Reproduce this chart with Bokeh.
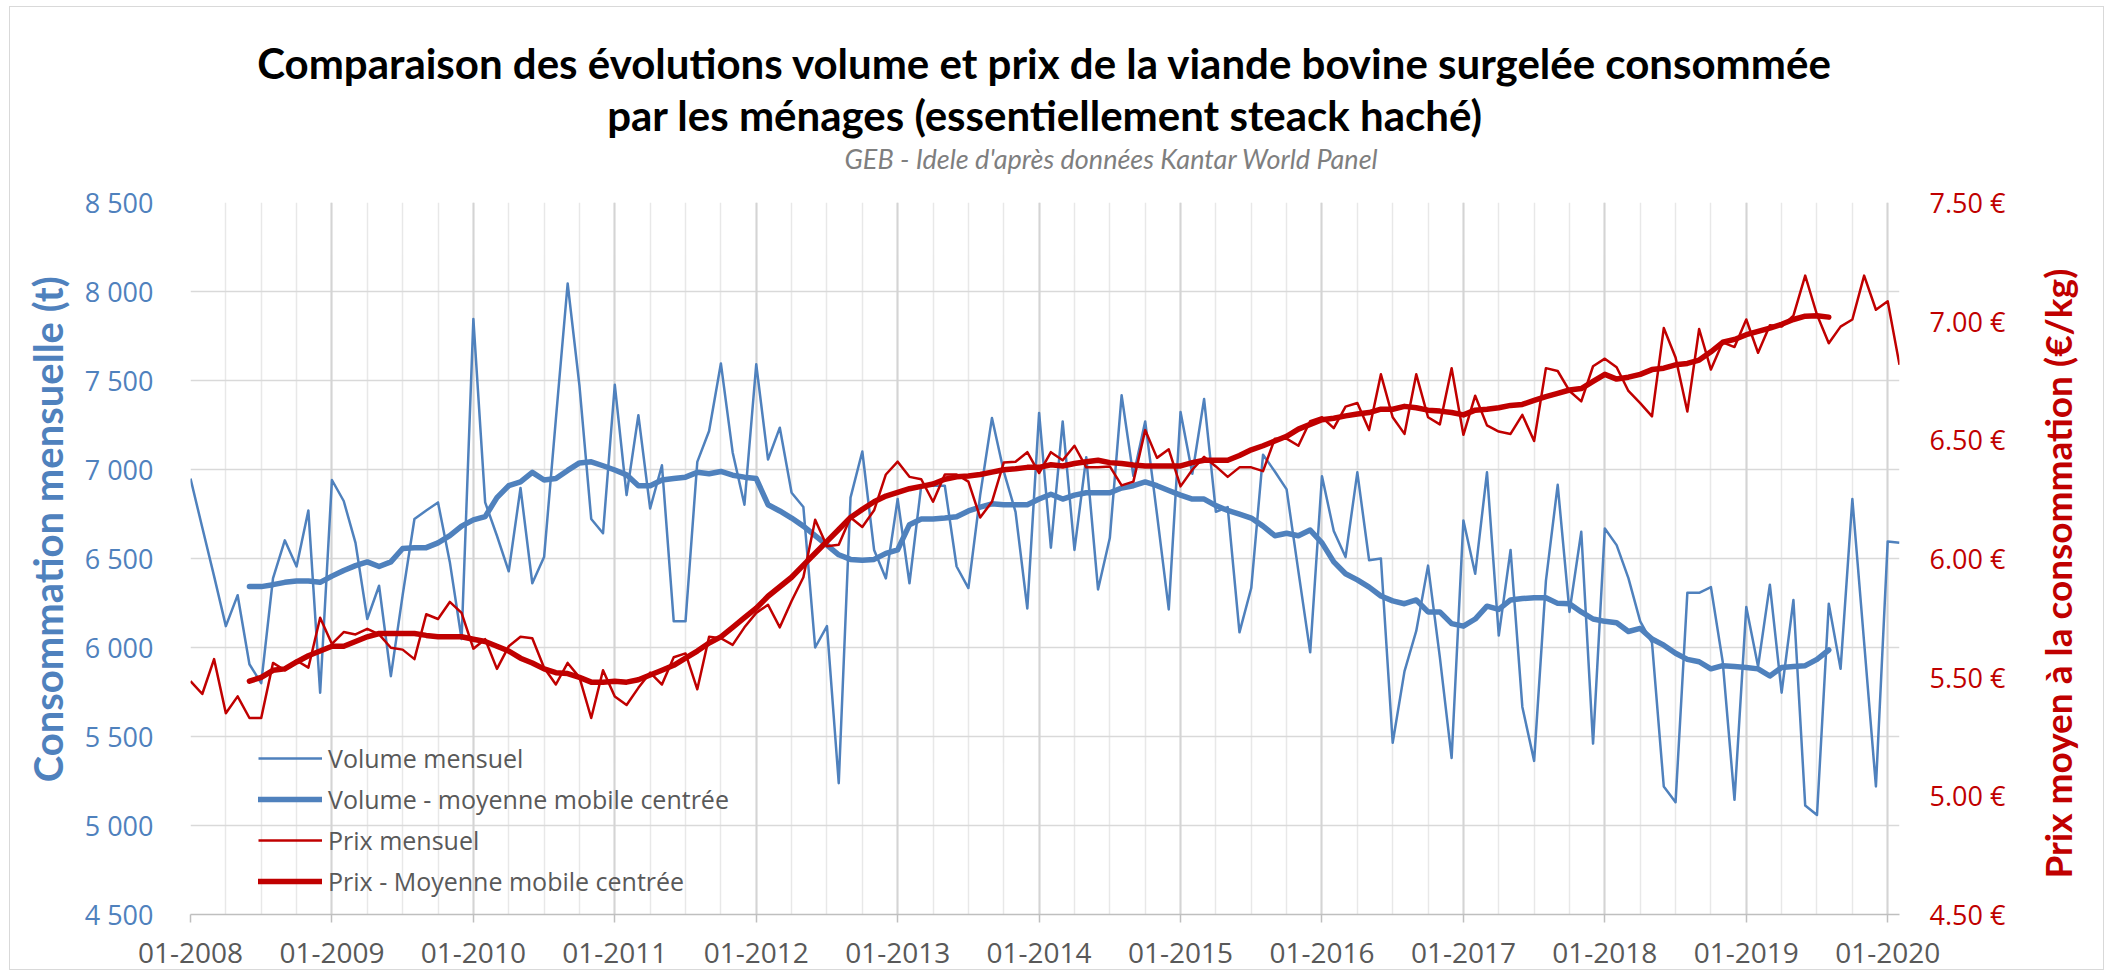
import math
import pandas as pd
from bokeh.plotting import figure
from bokeh.models import (Range1d, LinearAxis, FixedTicker, Grid, Legend, LegendItem, Title)
from bokeh.embed import file_html
from bokeh.resources import INLINE

# ---------------- data ----------------
months = [p.strftime("%m-%Y") for p in pd.period_range("2008-01", "2020-02", freq="M")]

volume_mensuel = [
    6949, 6674, 6401, 6120, 6294, 5906, 5800, 6388, 6602, 6455, 6770, 5746,   # 2008
    6941, 6823, 6588, 6160, 6347, 5839, 6294, 6722, 6770, 6815, 6481, 6048,   # 2009
    7845, 6815, 6628, 6428, 6896, 6361, 6508, 7283, 8045, 7471, 6722, 6642,   # 2010
    7476, 6856, 7305, 6781, 7024, 6147, 6147, 7043, 7216, 7596, 7096, 6802,   # 2011
    7591, 7056, 7235, 6869, 6789, 6000, 6120, 5238, 6842, 7101, 6548, 6388,   # 2012
    6834, 6361, 6909, 6909, 6909, 6455, 6334, 6856, 7289, 6989, 6762, 6219,   # 2013
    7318, 6561, 7270, 6548, 7069, 6326, 6615, 7417, 6963, 7270, 6749, 6214,   # 2014
    7323, 6976, 7396, 6762, 6789, 6085, 6334, 7083, 6989, 6888, 6428, 5973,   # 2015
    6962, 6655, 6508, 6984, 6490, 6500, 5465, 5866, 6093, 6460, 5946, 5379,   # 2016
    6714, 6414, 6984, 6067, 6548, 5666, 5363, 6374, 6914, 6200, 6650, 5460,   # 2017
    6669, 6575, 6390, 6147, 6027, 5219, 5131, 6307, 6307, 6339, 5920, 5144,   # 2018
    6227, 5893, 6353, 5746, 6267, 5112, 5059, 6246, 5880, 6834, 6027, 5219,   # 2019
    6596, 6588,                                                               # 2020
]

# centred moving averages, available from 06-2008 to 08-2019
ma_first_month = "06-2008"
volume_mm = [
    6342, 6342, 6353, 6366, 6374, 6374, 6366,
    6401, 6433, 6460, 6481, 6455, 6481, 6556, 6561, 6561, 6588, 6628, 6682,
    6717, 6735, 6842, 6909, 6930, 6984, 6941, 6949, 6995, 7037, 7043, 7021,
    6997, 6970, 6909, 6909, 6941, 6949, 6957, 6984, 6976, 6989, 6968, 6957,
    6949, 6802, 6767, 6727, 6682, 6628, 6575, 6521, 6495, 6490, 6495, 6529,
    6548, 6690, 6722, 6722, 6727, 6735, 6767, 6789, 6807, 6802, 6802, 6802,
    6834, 6861, 6834, 6856, 6869, 6869, 6869, 6896, 6909, 6930, 6909, 6882,
    6856, 6834, 6834, 6797, 6770, 6749, 6727, 6682, 6628, 6642, 6628, 6660,
    6588, 6481, 6414, 6380, 6339, 6289, 6262, 6246, 6267, 6200, 6200, 6134,
    6120, 6160, 6232, 6214, 6267, 6275, 6280, 6280, 6248, 6246, 6200, 6160,
    6147, 6139, 6090, 6107, 6048, 6013, 5968, 5933, 5920, 5880, 5898, 5893,
    5888, 5880, 5840, 5888, 5893, 5898, 5933, 5986,
]

prix_mensuel = [
    5.483, 5.429, 5.576, 5.348, 5.419, 5.328, 5.328, 5.560, 5.529, 5.570, 5.540, 5.750,
    5.640, 5.690, 5.680, 5.704, 5.680, 5.624, 5.616, 5.576, 5.765, 5.745, 5.817, 5.771,
    5.620, 5.660, 5.535, 5.630, 5.670, 5.664, 5.540, 5.469, 5.560, 5.499, 5.328, 5.529,
    5.419, 5.383, 5.455, 5.519, 5.469, 5.584, 5.600, 5.449, 5.670, 5.664, 5.636, 5.710,
    5.771, 5.805, 5.710, 5.821, 5.921, 6.163, 6.052, 6.058, 6.173, 6.133, 6.203, 6.354,
    6.408, 6.344, 6.334, 6.239, 6.354, 6.354, 6.324, 6.173, 6.239, 6.404, 6.408, 6.448,
    6.360, 6.448, 6.414, 6.475, 6.384, 6.384, 6.388, 6.308, 6.324, 6.541, 6.424, 6.460,
    6.304, 6.374, 6.428, 6.388, 6.344, 6.384, 6.384, 6.368, 6.505, 6.505, 6.475, 6.579,
    6.595, 6.549, 6.640, 6.655, 6.541, 6.776, 6.595, 6.525, 6.776, 6.595, 6.565, 6.802,
    6.521, 6.686, 6.561, 6.535, 6.525, 6.605, 6.495, 6.802, 6.790, 6.706, 6.662, 6.810,
    6.842, 6.806, 6.706, 6.655, 6.599, 6.971, 6.847, 6.619, 6.967, 6.796, 6.911, 6.891,
    7.007, 6.867, 6.983, 6.977, 7.023, 7.192, 7.027, 6.907, 6.977, 7.007, 7.192, 7.048,
    7.084, 6.816,
]

prix_mm = [
    5.483, 5.499, 5.529, 5.535, 5.564, 5.590, 5.610,
    5.630, 5.630, 5.650, 5.670, 5.684, 5.684, 5.684, 5.684, 5.676, 5.670, 5.670, 5.670,
    5.660, 5.650, 5.630, 5.610, 5.580, 5.560, 5.535, 5.519, 5.515, 5.499, 5.479, 5.479,
    5.483, 5.479, 5.489, 5.509, 5.529, 5.550, 5.580, 5.610, 5.644, 5.670, 5.710, 5.751,
    5.791, 5.841, 5.881, 5.921, 5.972, 6.022, 6.072, 6.122, 6.173, 6.207, 6.239, 6.263,
    6.279, 6.294, 6.304, 6.314, 6.334, 6.344, 6.348, 6.354, 6.364, 6.374, 6.378, 6.384,
    6.384, 6.395, 6.390, 6.400, 6.408, 6.414, 6.404, 6.400, 6.394, 6.390, 6.390, 6.390,
    6.390, 6.404, 6.414, 6.414, 6.414, 6.434, 6.458, 6.475, 6.495, 6.515, 6.545, 6.565,
    6.585, 6.591, 6.601, 6.609, 6.615, 6.629, 6.629, 6.641, 6.635, 6.625, 6.621, 6.615,
    6.605, 6.625, 6.629, 6.635, 6.645, 6.649, 6.666, 6.682, 6.696, 6.710, 6.716, 6.746,
    6.776, 6.756, 6.764, 6.776, 6.796, 6.802, 6.816, 6.822, 6.836, 6.871, 6.911, 6.923,
    6.943, 6.957, 6.971, 6.987, 7.007, 7.021, 7.023, 7.017,
]

vol_ticks = [4500, 5000, 5500, 6000, 6500, 7000, 7500, 8000, 8500]
prix_ticks = [4.5, 5.0, 5.5, 6.0, 6.5, 7.0, 7.5]

title_l1 = "Comparaison des évolutions volume et prix de la viande bovine surgelée consommée"
title_l2 = "par les ménages (essentiellement steack haché)"
subtitle = "GEB - Idele d'après données Kantar World Panel"
y_left_title = "Consommation mensuelle (t)"
y_right_title = "Prix moyen à la consommation (€/kg)"
legend_labels = ["Volume mensuel", "Volume - moyenne mobile centrée",
                 "Prix mensuel", "Prix - Moyenne mobile centrée"]

# ---------------- styling ----------------
BLUE = "#4F81BD"
RED = "#C00000"
GRAY_TXT = "#595959"
TICK_FONT = "Open Sans"
NB = "\u00a0"

x_all = list(range(len(months)))
i0 = months.index(ma_first_month)
x_mm = list(range(i0, i0 + len(volume_mm)))

p = figure(width=2095, height=964, output_backend="svg", toolbar_location=None,
           x_range=Range1d(0, len(months) - 1), y_range=Range1d(4500, 8500),
           min_border_left=180, min_border_right=205, min_border_top=195,
           min_border_bottom=57)
p.styles = {"border": "1px solid #D9D9D9", "margin-left": "9px", "margin-top": "6px"}
p.outline_line_color = None
p.background_fill_color = "white"
p.border_fill_color = "white"
p.extra_y_ranges = {"prix": Range1d(4.5, 7.5)}

# grids
p.xgrid.ticker = FixedTicker(ticks=list(range(0, len(months), 3)))
p.xgrid.grid_line_color = "#E8E8E8"
p.xgrid.grid_line_width = 1.5
year_grid = Grid(dimension=0, ticker=FixedTicker(ticks=list(range(0, len(months), 12))),
                 grid_line_color="#D4D4D4", grid_line_width=2)
p.add_layout(year_grid)
p.ygrid.ticker = FixedTicker(ticks=vol_ticks)
p.ygrid.grid_line_color = "#D9D9D9"
p.ygrid.grid_line_width = 1.5

# left axis
ya = p.yaxis[0]
ya.ticker = FixedTicker(ticks=vol_ticks)
ya.major_label_overrides = {v: f"{v:,}".replace(",", " ") for v in vol_ticks}
ya.major_label_text_color = BLUE
ya.major_label_text_font = TICK_FONT
ya.major_label_text_font_size = "27px"
ya.axis_line_color = None
ya.major_tick_line_color = None
ya.minor_tick_line_color = None
ya.major_label_standoff = 31
ya.axis_label = NB * 6 + y_left_title
ya.axis_label_text_font = "Lato"
ya.axis_label_text_font_style = "bold"
ya.axis_label_text_font_size = "40px"
ya.axis_label_text_color = BLUE
ya.axis_label_standoff = 10

# right axis
ra = LinearAxis(y_range_name="prix", ticker=FixedTicker(ticks=prix_ticks))
ra.major_label_overrides = {v: f"{v:.2f} €" for v in prix_ticks}
ra.major_label_text_color = RED
ra.major_label_text_font = TICK_FONT
ra.major_label_text_font_size = "27px"
ra.axis_line_color = None
ra.major_tick_line_color = None
ra.minor_tick_line_color = None
ra.major_label_standoff = 24
ra.axis_label = NB * 4 + y_right_title
ra.axis_label_orientation = math.pi / 2
ra.axis_label_align = "start"
ra.axis_label_text_font = "Lato"
ra.axis_label_text_font_style = "bold"
ra.axis_label_text_font_size = "37px"
ra.axis_label_text_color = RED
ra.axis_label_standoff = 49
p.add_layout(ra, "right")

# bottom axis
xa = p.xaxis[0]
year_ticks = list(range(0, len(months), 12))
xa.ticker = FixedTicker(ticks=year_ticks)
xa.major_label_overrides = {t: months[t] for t in year_ticks}
xa.major_label_text_color = GRAY_TXT
xa.major_label_text_font = TICK_FONT
xa.major_label_text_font_size = "28px"
xa.axis_line_color = "#BFBFBF"
xa.axis_line_width = 1.5
xa.major_tick_line_color = "#BFBFBF"
xa.major_tick_line_width = 1.5
xa.major_tick_in = 0
xa.major_tick_out = 8
xa.minor_tick_line_color = None
xa.major_label_standoff = 20

# series
r_vol = p.line(x_all, volume_mensuel, color=BLUE, line_width=2.5, line_join="round")
r_volmm = p.line(x_mm, volume_mm, color=BLUE, line_width=5.5, line_join="round", line_cap="round")
r_prix = p.line(x_all, prix_mensuel, color=RED, line_width=2.5, line_join="round", y_range_name="prix")
r_prixmm = p.line(x_mm, prix_mm, color=RED, line_width=5.5, line_join="round", line_cap="round",
                  y_range_name="prix")

legend = Legend(items=[LegendItem(label=legend_labels[0], renderers=[r_vol]),
                       LegendItem(label=legend_labels[1], renderers=[r_volmm]),
                       LegendItem(label=legend_labels[2], renderers=[r_prix]),
                       LegendItem(label=legend_labels[3], renderers=[r_prixmm])],
                location=(68, 16), padding=0, margin=0, spacing=7,
                glyph_width=64, glyph_height=30, label_height=30,
                label_standoff=6, label_text_font="Open Sans", label_text_font_size="25px",
                label_text_color=GRAY_TXT, background_fill_alpha=0,
                border_line_color=None)
p.add_layout(legend)

# titles, innermost first; the first one is a blank spacer above the plot area
p.add_layout(Title(text=NB, text_font_size="16px", standoff=9), "above")
p.add_layout(Title(text=subtitle, align="left", offset=654, text_font="Lato",
                   text_font_size="27px", text_font_style="italic", text_color="#7F7F7F",
                   standoff=0), "above")
p.add_layout(Title(text=title_l2, align="center", text_font="Lato", text_font_size="42px",
                   text_font_style="bold", text_color="black", standoff=0), "above")
p.add_layout(Title(text=title_l1, align="center", text_font="Lato", text_font_size="42px",
                   text_font_style="bold", text_color="black", standoff=0), "above")

open("out.html", "w").write(file_html(p, INLINE))
